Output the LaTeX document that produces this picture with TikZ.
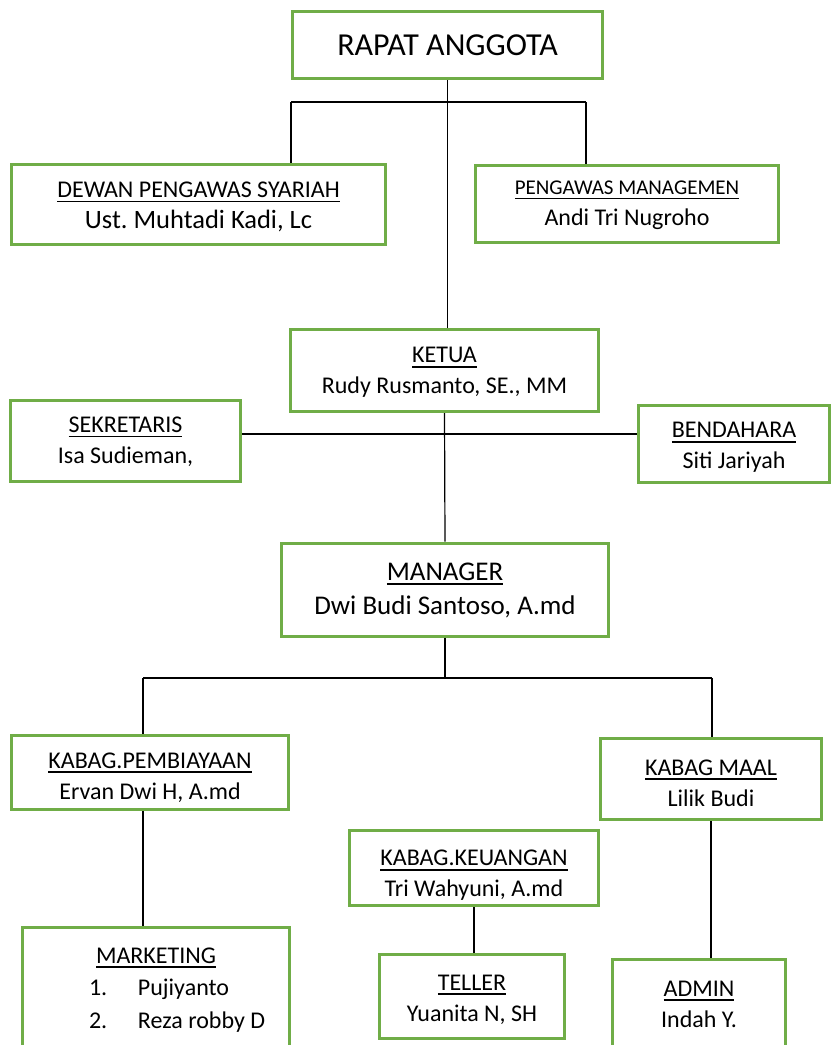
\documentclass[tikz,border=0pt]{standalone}
\usepackage{fontspec}
\setmainfont{Carlito}
\frenchspacing
\definecolor{vertcadre}{HTML}{70AD47}
\newcommand{\souligne}[1]{\leavevmode\setbox0=\hbox{#1}\rlap{\rule[-5pt]{\wd0}{1.6pt}}\box0}
\newcommand{\poste}[3]{\raisebox{-#1pt}[\height][\depth]{\begin{tabular}{@{}c@{}}\souligne{#2}\\#3\end{tabular}}}
\begin{document}
\begin{tikzpicture}[x=1pt,y=-1pt]
\tikzset{cadre/.style={draw=vertcadre, line width=3pt, fill=white, align=center, inner sep=0pt, font=\fontsize{24}{31}\selectfont}}
\tikzset{trait/.style={line width=1.2pt}}
\useasboundingbox (0,0) rectangle (832,1045);
\node[cadre, minimum width=310pt, minimum height=67pt, font=\fontsize{32}{38}\selectfont] (RA) at (447.5,45) {RAPAT ANGGOTA};
\node[cadre, minimum width=374pt, minimum height=80pt] (DPS) at (198.5,204) {\poste{2.7}{DEWAN PENGAWAS SYARIAH}{\fontsize{26.5}{31}\selectfont Ust. Muhtadi Kadi, Lc}};
\node[cadre, minimum width=303pt, minimum height=77pt] (PM) at (627,203.5) {\poste{0}{\fontsize{21}{31}\selectfont PENGAWAS MANAGEMEN}{Andi Tri Nugroho}};
\node[cadre, minimum width=308pt, minimum height=82pt] (KET) at (444.5,370.5) {\poste{1.5}{KETUA}{Rudy Rusmanto, SE., MM}};
\node[cadre, minimum width=230pt, minimum height=81pt] (SEK) at (125.5,441) {\poste{0.6}{SEKRETARIS}{Isa Sudieman,}};
\node[cadre, minimum width=191pt, minimum height=77pt] (BEN) at (734,444) {\poste{3}{BENDAHARA}{Siti Jariyah}};
\node[cadre, minimum width=327pt, minimum height=93pt, font=\fontsize{27}{34}\selectfont] (MGR) at (445,589.7) {\poste{0.5}{MANAGER}{Dwi Budi Santoso, A.md}};
\node[cadre, minimum width=277pt, minimum height=74pt] (PEMB) at (150,772.5) {\poste{4.8}{KABAG.PEMBIAYAAN}{Ervan Dwi H, A.md}};
\node[cadre, minimum width=221pt, minimum height=81pt] (MAAL) at (711,779) {\poste{5.3}{KABAG MAAL}{Lilik Budi}};
\node[cadre, minimum width=249pt, minimum height=75pt] (KEU) at (474,868) {\poste{6.8}{KABAG.KEUANGAN}{Tri Wahyuni, A.md}};
\node[cadre, minimum width=267pt, minimum height=120pt, font=\fontsize{24}{32.5}\selectfont] (MKT) at (156,987.5) {\raisebox{-1.5pt}[\height][\depth]{\begin{tabular}{@{}c@{}}\souligne{MARKETING}\\\makebox[134pt][l]{\makebox[49pt][l]{1.}Pujiyanto}\\\makebox[134pt][l]{\makebox[49pt][l]{2.}Reza robby D}\end{tabular}}};
\node[cadre, minimum width=185pt, minimum height=84pt] (TEL) at (472,996.5) {\poste{2.8}{TELLER}{Yuanita N, SH}};
\node[cadre, minimum width=173pt, minimum height=89pt] (ADM) at (699,1004) {\poste{1.3}{ADMIN}{Indah Y.}};
% liaisons
\coordinate (H1) at (291,102);
\coordinate (H2) at (586,102);
\coordinate (H3) at (442,434);
\coordinate (H4) at (143,678);
\coordinate (H5) at (712,678);
\draw[trait] (RA.south) -- (RA.south |- KET.north);
\draw[trait] (H1) -- (H2);
\draw[trait] (H1) -- (H1 |- DPS.north);
\draw[trait] (H2) -- (H2 |- PM.north);
\draw[trait] (H3 -| SEK.east) -- (H3 -| BEN.west);
\draw[trait] (KET.south) -- (MGR.north);
\draw[trait] (MGR.south) -- (MGR.south |- H4);
\draw[trait] (H4) -- (H5);
\draw[trait] (H4) -- (H4 |- PEMB.north);
\draw[trait] (H5) -- (H5 |- MAAL.north);
\draw[trait] (H4 |- PEMB.south) -- (H4 |- MKT.north);
\draw[trait] (KEU.south) -- (KEU.south |- TEL.north);
\draw[trait] (MAAL.south) -- (MAAL.south |- ADM.north);
\end{tikzpicture}
\end{document}
